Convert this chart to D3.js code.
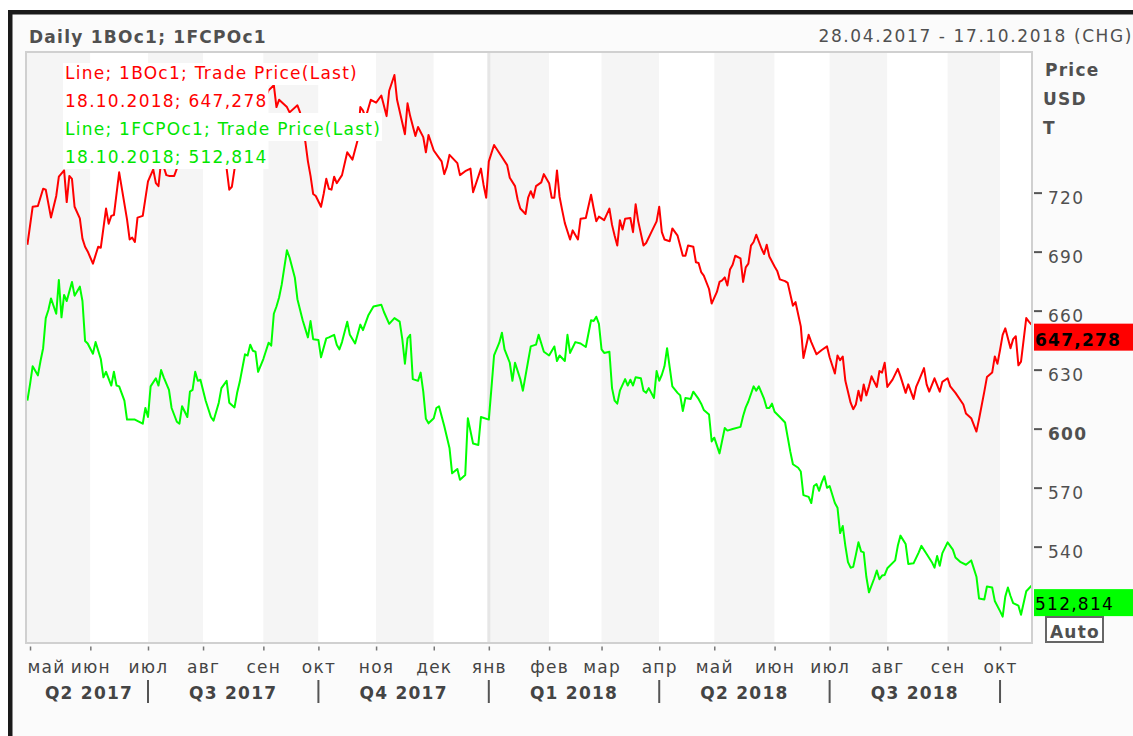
<!DOCTYPE html>
<html>
<head>
<meta charset="utf-8">
<script src="https://cdn.jsdelivr.net/npm/d3@7"></script>
<style>
  body { margin: 0; background: #fff; }
  svg text { font-family: "DejaVu Sans", Verdana, sans-serif; font-size: 17px; letter-spacing: 1.25px; }
</style>
</head>
<body>
<svg id="chart" width="1133" height="736"></svg>
<script>
// x positions are trading days (weekdays) counted from 28.04.2017
const startDate = "2017-04-28";

// 1BOc1, Trade Price(Last) - [trading day, price]
const boSeries = [
  [0,693.5],[2,712.8],[4,713.2],[6,722.0],[7,721.5],[9,707.3],[11,718.3],[12,728.1],[14,731.3],[15,715.2],
  [16,728.5],[17,727.0],[18,712.8],[20,706.9],[21,696.6],[22,692.5],[23,690.1],[25,683.9],[27,692.5],[28,692.0],
  [30,711.9],[31,704.2],[32,708.2],[33,708.6],[35,730.3],[38,706.4],[39,696.2],[40,697.1],[41,694.9],[42,707.3],
  [44,708.2],[46,725.7],[48,731.8],[49,724.8],[50,723.3],[51,736],[52,733],[53,728.9],[54,728.5],[56,728.5],
  [57,732.2],[59,738],[62,744],[65,740],[68,746],[71,742],[74,737],[76,732.2],[77,721.5],[78,723.0],
  [79,732.0],[81,740],[84,750],[87,758],[90,766],[92,772],[94,774.6],[95,763.5],[96,767.2],[99,763.5],
  [100,760.8],[103,764.4],[104,760.8],[105,752],[106,746.0],[107,735.9],[108,728.5],[109,719.3],[110,718.3],[112,712.8],
  [113,719.3],[114,727.0],[115,722.0],[116,721.5],[117,728.1],[118,724.8],[120,728.9],[122,740.5],[124,736.8],[126,746.9],
  [127,763.5],[128,761.7],[129,758],[130,762.6],[131,767.2],[133,765.7],[135,769.4],[137,758.9],[138,771.8],[140,779.8],
  [141,767.2],[144,749.7],[145,765.4],[146,758.9],[148,748.8],[149,753.4],[151,748.2],[152,740.5],[153,749.3],[155,741.4],
  [157,737.7],[158,735.9],[159,729.4],[160,733.1],[161,739.2],[164,735.0],[165,728.9],[167,730.9],[169,732.2],[170,720.2],
  [173,732.2],[174,723.9],[175,717.4],[176,735.9],[178,744.2],[181,738.1],[183,734.0],[184,727.6],[186,723.3],[187,716.5],
  [188,711.9],[190,709.1],[191,717.4],[192,720.7],[193,717.4],[194,723.3],[196,725.2],[197,729.4],[199,724.8],[200,717.4],
  [201,717.4],[202,731.3],[203,717.8],[204,711.0],[205,704.5],[207,696.2],[208,700.8],[210,696.2],[211,706.7],[213,707.1],
  [215,718.9],[216,711.9],[217,705.4],[218,707.8],[220,706.0],[222,711.9],[223,703.6],[224,698.1],[225,693.1],[226,706.0],
  [227,701.2],[228,706.7],[230,707.1],[231,699.9],[232,714.1],[233,705.4],[235,693.1],[236,694.4],[238,699.9],[240,705.4],
  [241,712.8],[242,699.9],[243,696.2],[245,695.3],[246,701.8],[248,698.1],[250,687.9],[251,687.9],[252,693.1],[254,692.5],
  [255,684.6],[256,684.2],[257,679.6],[258,677.8],[260,671.0],[261,663.6],[263,669.5],[264,674.6],[265,675.4],[266,676.9],
  [267,672.8],[268,680.9],[269,683.3],[270,687.9],[272,686.6],[273,674.6],[274,682.0],[275,683.9],[276,693.1],[277,694.9],
  [278,698.6],[280,691.6],[281,688.8],[282,693.5],[283,687.5],[285,682.4],[286,680.2],[287,675.9],[289,675.0],[290,674.1],
  [292,662.5],[293,664.3],[295,652.0],[296,635.9],[298,647.7],[299,644.0],[301,637.8],[303,640.0],[305,641.8],[306,636.3],
  [308,628.0],[309,637.2],[310,634.8],[311,636.7],[312,624.3],[314,613.2],[315,609.9],[316,612.3],[317,619.3],[318,614.2],
  [319,622.5],[320,616.9],[321,621.5],[322,626.6],[323,623.8],[324,621.2],[325,629.3],[326,628.5],[327,633.5],[328,621.2],
  [330,624.9],[332,630.4],[333,626.7],[335,618.2],[336,622.5],[338,615.1],[339,621.2],[340,624.3],[342,630.8],[343,622.5],
  [344,618.8],[346,625.6],[348,618.8],[349,623.8],[351,625.6],[352,621.5],[354,618.2],[357,612.3],[358,607.7],[360,605.3],
  [362,598.5],[363,604.9],[365,618.8],[366,626.2],[368,628.5],[369,636.7],[370,633.0],[371,640.0],[372,647.7],[373,651.0],
  [375,640.9],[376,645.5],[377,647.0],[378,632.2],[379,634.1],[381,656.2],[382,654.4],[383,652.9]
];

// 1FCPOc1, Trade Price(Last) - [trading day, price]
const fcpoSeries = [
  [0,614.2],[1,622.5],[2,631.7],[4,627.1],[5,634.4],[6,640.9],[7,656.2],[8,660.3],[9,666.2],[11,658.4],
  [12,675.6],[13,656.6],[14,668.0],[15,664.9],[17,674.6],[18,667.6],[20,672.2],[21,664.9],[22,644.6],[23,643.3],
  [25,638.1],[26,644.0],[28,635.4],[29,626.1],[30,628.9],[32,621.9],[33,628.9],[34,621.9],[35,621.5],[37,614.2],
  [38,604.6],[41,604.6],[44,602.5],[45,610.5],[46,605.9],[47,621.5],[49,625.6],[50,621.9],[51,629.8],[52,626.1],
  [54,619.7],[55,610.5],[57,603.5],[58,602.5],[59,611.4],[61,605.9],[62,618.8],[63,619.7],[64,628.9],[65,624.3],
  [66,624.9],[68,614.2],[70,605.9],[71,604.0],[73,613.2],[74,620.6],[76,624.3],[77,613.2],[79,610.8],[80,618.2],
  [81,623.8],[83,637.8],[84,637.2],[85,642.7],[86,639.6],[87,639.1],[88,628.9],[90,635.4],[92,643.7],[93,642.2],
  [94,658.4],[95,662.1],[96,666.7],[97,673.2],[99,690.7],[100,687.0],[102,676.9],[103,665.8],[105,655.1],[107,646.4],
  [108,654.7],[109,645.5],[111,645.1],[112,636.3],[114,645.9],[115,646.4],[117,647.7],[118,642.7],[119,640.3],[120,644.0],
  [122,654.4],[123,647.7],[125,643.3],[127,652.9],[128,650.1],[130,657.5],[132,662.1],[135,663.0],[136,659.3],[138,653.3],
  [140,656.2],[142,654.4],[143,645.5],[144,633.0],[145,645.9],[146,647.7],[147,625.2],[149,624.3],[150,628.5],[151,618.8],
  [152,605.0],[153,602.7],[155,605.3],[156,610.5],[157,611.4],[159,601.3],[161,590.2],[162,577.3],[164,579.5],[165,574.0],
  [167,576.4],[168,605.3],[170,592.4],[172,591.7],[173,605.9],[176,604.6],[177,620.6],[178,637.2],[180,643.7],[181,648.8],
  [182,640.3],[184,633.5],[185,624.3],[186,633.5],[188,625.2],[189,619.3],[191,634.4],[192,641.8],[194,642.7],[195,647.7],
  [197,639.1],[199,637.2],[201,641.8],[202,634.4],[203,637.2],[205,634.4],[206,647.7],[207,638.5],[209,644.0],[211,643.3],
  [213,641.5],[215,655.1],[216,654.7],[217,656.9],[218,653.3],[219,640.3],[220,638.5],[222,639.1],[223,620.6],[224,614.2],
  [225,612.7],[226,619.3],[228,625.2],[229,621.9],[230,624.9],[231,621.9],[232,626.1],[234,625.6],[235,619.3],[236,618.2],
  [237,620.6],[239,615.6],[240,629.3],[241,624.3],[242,627.4],[243,631.7],[244,640.9],[245,631.1],[246,621.5],[248,618.2],
  [249,616.9],[250,609.0],[251,615.6],[253,615.1],[254,618.8],[256,615.1],[257,612.7],[258,609.5],[260,607.2],[261,593.5],
  [262,595.4],[264,587.4],[266,600.3],[267,599.0],[269,599.8],[272,600.9],[273,606.4],[274,610.8],[275,613.8],[277,621.5],
  [278,619.3],[279,621.5],[281,615.1],[282,610.5],[283,610.5],[284,612.7],[285,608.6],[287,605.9],[289,603.1],[290,595.7],
  [291,588.3],[292,581.9],[294,580.1],[295,578.2],[296,566.2],[298,565.3],[299,562.2],[300,570.8],[301,571.8],[302,568.4],
  [303,572.7],[304,575.8],[305,569.9],[306,570.8],[308,562.2],[309,559.8],[310,546.9],[311,550.5],[312,540.4],[313,532.1],
  [314,529.3],[315,529.7],[316,535.8],[317,542.2],[318,537.6],[319,537.1],[320,524.7],[321,516.8],[323,523.8],[324,527.9],
  [325,523.4],[326,525.3],[327,525.6],[328,529.0],[331,533.0],[332,540.4],[333,545.6],[335,541.3],[336,531.2],[338,531.5],
  [340,537.1],[341,540.4],[343,536.3],[345,532.1],[346,529.3],[347,535.2],[348,530.3],[349,536.7],[351,542.2],[353,538.5],
  [354,534.5],[356,532.1],[358,530.8],[360,533.0],[362,524.7],[363,513.6],[365,513.1],[366,519.7],[368,519.2],[369,512.4],
  [371,507.2],[372,504.4],[373,514.6],[374,519.2],[375,514.9],[376,511.3],[378,510.0],[379,505.4],[381,517.3],[383,520.1]
];

const boLast = 647.278;
const fcpoLast = 512.814;

const monthStarts = ["2017-05-01","2017-06-01","2017-07-01","2017-08-01","2017-09-01","2017-10-01",
  "2017-11-01","2017-12-01","2018-01-01","2018-02-01","2018-03-01","2018-04-01","2018-05-01","2018-06-01",
  "2018-07-01","2018-08-01","2018-09-01","2018-10-01"];
const monthLabels = ["май","июн","июл","авг","сен","окт","ноя","дек","янв","фев","мар","апр",
  "май","июн","июл","авг","сен","окт"];
const quarterLabels = ["Q2 2017","Q3 2017","Q4 2017","Q1 2018","Q2 2018","Q3 2018"];
const quarterEdges = [0, 2, 5, 8, 11, 14, 17];   // index into monthStarts
const priceTicks = [540, 570, 600, 630, 660, 690, 720];
const legendLines = ["Line; 1BOc1; Trade Price(Last)", "18.10.2018; 647,278",
  "Line; 1FCPOc1; Trade Price(Last)", "18.10.2018; 512,814"];

const boColor = "#ff0000";
const fcpoColor = "#00ff00";
const textGray = "#505050";

// weekdays between start date and d
function tradingDay(s) {
  let d = new Date(startDate + "T00:00:00Z");
  let end = new Date(s + "T00:00:00Z");
  let n = 0;
  while (d < end) {
    d.setUTCDate(d.getUTCDate() + 1);
    let wd = d.getUTCDay();
    if (wd !== 0 && wd !== 6 && d <= end) n++;
  }
  // a start on a weekend lands on the next trading day
  let we = end.getUTCDay();
  if (we === 0 || we === 6) n++;
  return n;
}

let chart = d3.select("#chart");
let plotL = 26, plotR = 1032, plotT = 52, plotB = 643;

let x = d3.scaleLinear().domain([0, 383]).range([27.4, 1031.5]);
let y = d3.scaleLinear().domain([490.5, 791.5]).range([644, plotT]);

// frame
chart.append("rect").attr("x", 8).attr("y", 10).attr("width", 1125).attr("height", 726).attr("fill", "#fbfbfb");
chart.append("rect").attr("x", 8).attr("y", 10).attr("width", 1125).attr("height", 4.5).attr("fill", "#1a1a1a");
chart.append("rect").attr("x", 8).attr("y", 10).attr("width", 4.5).attr("height", 726).attr("fill", "#1a1a1a");

// header
chart.append("text").text("Daily 1BOc1; 1FCPOc1")
  .attr("x", 29).attr("y", 43).attr("font-weight", "bold").attr("fill", textGray);
chart.append("text").text("28.04.2017 - 17.10.2018 (CHG)")
  .attr("x", 1133).attr("y", 42).attr("text-anchor", "end")
  .style("letter-spacing", "1.6px").attr("fill", textGray);

// plot background and month bands
let monthX = monthStarts.map(function(d) { return x(tradingDay(d)); });
chart.append("rect").attr("x", plotL).attr("y", plotT)
  .attr("width", plotR - plotL).attr("height", plotB - plotT).attr("fill", "#ffffff");
let bandEdges = [plotL].concat(monthX.slice(1)).concat([plotR]);
chart.selectAll("band").data(d3.range(bandEdges.length - 1)).enter()
  .append("rect")
  .attr("x", function(i) { return bandEdges[i]; })
  .attr("y", plotT)
  .attr("width", function(i) { return bandEdges[i + 1] - bandEdges[i]; })
  .attr("height", plotB - plotT)
  .attr("fill", function(i) { return i % 2 === 0 ? "#f5f5f5" : "#ffffff"; });

// year change line
chart.append("line")
  .attr("x1", monthX[8]).attr("x2", monthX[8])
  .attr("y1", plotT).attr("y2", plotB)
  .attr("stroke", "#e6e6e6").attr("stroke-width", 3);

// lines
let line = d3.line()
  .x(function(d) { return x(d[0]); })
  .y(function(d) { return y(d[1]); });

chart.append("path").datum(fcpoSeries)
  .attr("d", line).attr("fill", "none")
  .attr("stroke", fcpoColor).attr("stroke-width", 2).attr("stroke-linejoin", "round");
chart.append("path").datum(boSeries)
  .attr("d", line).attr("fill", "none")
  .attr("stroke", boColor).attr("stroke-width", 2).attr("stroke-linejoin", "round");

// legend with white boxes over the lines
legendLines.forEach(function(t, i) {
  let top = i === 0 ? 63 : 85 + 28 * (i - 1);
  let bottom = 85 + 28 * i;
  let box = chart.append("rect").attr("x", 63).attr("y", top).attr("height", bottom - top).attr("fill", "#ffffff");
  let txt = chart.append("text").text(t)
    .attr("x", 65).attr("y", bottom - 6)
    .attr("fill", i < 2 ? boColor : "#00e600");
  box.attr("width", txt.node().getComputedTextLength() + 3);
});

// plot border
chart.append("rect").attr("x", plotL).attr("y", plotT)
  .attr("width", plotR - plotL).attr("height", plotB - plotT)
  .attr("fill", "none").attr("stroke", "#d0d0d0").attr("stroke-width", 2);

// right price axis
let yAxis = d3.axisRight(y).tickValues(priceTicks).tickSize(8).tickPadding(6);
let yAxisGroup = chart.append("g")
  .attr("transform", "translate(" + (plotR + 2) + ",0)")
  .call(yAxis);
yAxisGroup.select(".domain").remove();
yAxisGroup.selectAll("line").attr("stroke", "#555").attr("stroke-width", 2);
yAxisGroup.selectAll("text")
  .attr("dy", "0.62em")
  .style("font-family", "'DejaVu Sans', Verdana, sans-serif")
  .style("font-size", "17px")
  .attr("fill", textGray)
  .attr("font-weight", function(d) { return d % 100 === 0 ? "bold" : "normal"; });

["Price", "USD", "T"].forEach(function(t, i) {
  chart.append("text").text(t)
    .attr("x", i === 0 ? 1045 : 1043).attr("y", 76 + 29 * i)
    .attr("font-weight", "bold").attr("fill", textGray);
});

// last value tags
chart.append("rect").attr("x", 1034).attr("y", y(boLast) - 12).attr("width", 99).attr("height", 27).attr("fill", boColor);
chart.append("text").text(d3.format(".3f")(boLast).replace(".", ","))
  .attr("x", 1035).attr("y", y(boLast) + 10).attr("font-weight", "bold").attr("fill", "#000");
chart.append("rect").attr("x", 1034).attr("y", y(fcpoLast) - 11).attr("width", 99).attr("height", 27).attr("fill", fcpoColor);
chart.append("text").text(d3.format(".3f")(fcpoLast).replace(".", ","))
  .attr("x", 1035).attr("y", y(fcpoLast) + 10).attr("fill", "#000");

// Auto button
chart.append("rect").attr("x", 1046).attr("y", 617).attr("width", 57).attr("height", 25)
  .attr("fill", "#ffffff").attr("stroke", "#666").attr("stroke-width", 2);
chart.append("text").text("Auto").attr("x", 1075).attr("y", 638)
  .attr("text-anchor", "middle").attr("font-weight", "bold").attr("fill", textGray);

// month axis
let xAxis = d3.axisBottom(x)
  .tickValues(monthStarts.map(tradingDay))
  .tickFormat(function(d, i) { return monthLabels[i]; })
  .tickSize(4).tickPadding(10);
let xAxisGroup = chart.append("g")
  .attr("transform", "translate(0,646.5)")
  .call(xAxis);
xAxisGroup.select(".domain").remove();
xAxisGroup.selectAll("line").attr("stroke", "#777").attr("stroke-width", 1.5);
xAxisGroup.selectAll("text")
  .style("font-family", "'DejaVu Sans', Verdana, sans-serif")
  .style("font-size", "17px")
  .attr("fill", "#444");
xAxisGroup.select(".tick text").attr("text-anchor", "start").attr("x", 27 - monthX[0]);

// quarters
chart.selectAll("qsep").data(quarterEdges.slice(1)).enter()
  .append("line")
  .attr("x1", function(d) { return monthX[d]; })
  .attr("x2", function(d) { return monthX[d]; })
  .attr("y1", 680).attr("y2", 703)
  .attr("stroke", "#555").attr("stroke-width", 2);
chart.selectAll("qlabel").data(quarterLabels).enter()
  .append("text")
  .text(function(d) { return d; })
  .attr("x", function(d, i) { return (monthX[quarterEdges[i]] + monthX[quarterEdges[i + 1]]) / 2; })
  .attr("y", 699)
  .attr("text-anchor", "middle")
  .attr("font-weight", "bold")
  .attr("fill", "#444");
</script>
</body>
</html>
